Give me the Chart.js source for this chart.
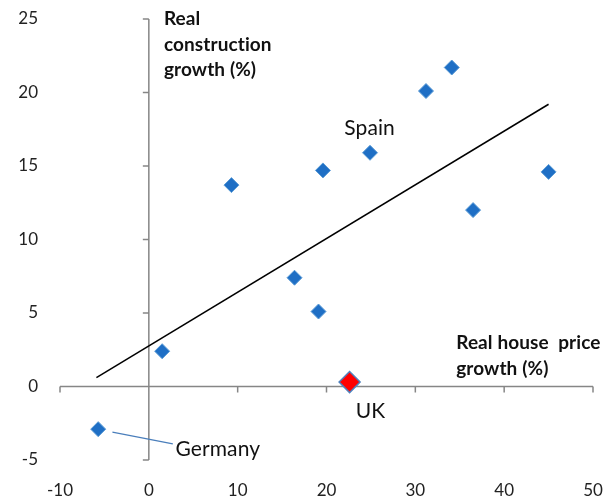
<!DOCTYPE html>
<html>
<head>
<meta charset="utf-8">
<script src="https://cdn.jsdelivr.net/npm/chart.js@4.4.0/dist/chart.umd.min.js"></script>
<style>
  html, body { margin: 0; padding: 0; background: #fff; }
  #chart { display: block; }
</style>
</head>
<body>
<canvas id="chart" width="613" height="500"></canvas>
<script>
// countries: real house price growth (x) vs real construction growth (y)
const houseGrowth = [-5.7, 1.5, 9.3, 16.4, 19.1, 19.6, 24.9, 31.2, 34.1, 36.5, 45.0];
const buildGrowth = [-2.9, 2.4, 13.7, 7.4, 5.1, 14.7, 15.9, 20.1, 21.7, 12.0, 14.6];
const ukPoint = [22.6, 0.3];
const trendX = [-5.9, 45.0];
const trendY = [0.6, 19.2];
const germanyLeaderX = [-4.1, 2.7];
const germanyLeaderY = [-3.1, -3.9];

const xTicks = [-10, 0, 10, 20, 30, 40, 50];
const yTicks = [-5, 0, 5, 10, 15, 20, 25];

const pointLabels = [
  { text: 'Spain', x: 22.0, y: 17.6 },
  { text: 'UK', x: 23.3, y: -1.7 },
  { text: 'Germany', x: 3.0, y: -4.3 }
];

const blue = '#1f6fc5';

const scatterData = houseGrowth.map((x, i) => ({ x: x, y: buildGrowth[i] }));

// axes cross at zero, ticks drawn on the lines themselves
const zeroAxes = {
  id: 'zeroAxes',
  beforeDatasetsDraw(chart) {
    const ctx = chart.ctx;
    const sx = chart.scales.x, sy = chart.scales.y;
    const x0 = sx.getPixelForValue(0), y0 = sy.getPixelForValue(0);
    ctx.save();
    ctx.strokeStyle = '#868686';
    ctx.lineWidth = 1.5;
    ctx.beginPath();
    ctx.moveTo(sx.left, y0); ctx.lineTo(sx.right, y0);
    ctx.moveTo(x0, sy.top); ctx.lineTo(x0, sy.bottom);
    xTicks.forEach(v => {
      const px = sx.getPixelForValue(v);
      ctx.moveTo(px, y0); ctx.lineTo(px, y0 + 6);
    });
    yTicks.forEach(v => {
      const py = sy.getPixelForValue(v);
      ctx.moveTo(x0, py); ctx.lineTo(x0 - 6, py);
    });
    ctx.stroke();
    ctx.restore();
  },
  afterDatasetsDraw(chart) {
    const ctx = chart.ctx;
    const sx = chart.scales.x, sy = chart.scales.y;
    ctx.save();
    ctx.fillStyle = '#111';
    ctx.textBaseline = 'middle';
    ctx.textAlign = 'left';
    ctx.letterSpacing = '0.1px'; // keeps "ti" from turning into a ligature
    ctx.font = '21px Lato';
    pointLabels.forEach(l => {
      ctx.fillText(l.text, sx.getPixelForValue(l.x), sy.getPixelForValue(l.y));
    });
    ctx.font = 'bold 19px Lato';
    const ax = sx.getPixelForValue(1.7);
    const ay = sy.getPixelForValue(25);
    ['Real', 'construction', 'growth (%)'].forEach((t, i) => ctx.fillText(t, ax, ay + i * 25.5));
    const bx = sx.getPixelForValue(34.6);
    const by = sy.getPixelForValue(3.0);
    ['Real house  price', 'growth (%)'].forEach((t, i) => ctx.fillText(t, bx, by + i * 26));
    ctx.restore();
  }
};

new Chart(document.getElementById('chart'), {
  type: 'scatter',
  data: {
    datasets: [
      {
        data: scatterData,
        pointStyle: 'rectRot',
        pointRadius: 7.5,
        backgroundColor: blue,
        borderColor: '#5b9bd5',
        borderWidth: 1,
        order: 1
      },
      {
        data: [{ x: ukPoint[0], y: ukPoint[1] }],
        pointStyle: 'rectRot',
        pointRadius: 10.5,
        backgroundColor: '#ff0000',
        borderColor: '#4f81bd',
        borderWidth: 1.5,
        order: 0
      },
      {
        type: 'line',
        data: trendX.map((x, i) => ({ x: x, y: trendY[i] })),
        borderColor: '#000',
        borderWidth: 1.5,
        pointRadius: 0,
        order: 2
      },
      {
        type: 'line',
        data: germanyLeaderX.map((x, i) => ({ x: x, y: germanyLeaderY[i] })),
        borderColor: '#4a7ebb',
        borderWidth: 1.2,
        pointRadius: 0,
        order: 2
      }
    ]
  },
  options: {
    responsive: false,
    animation: false,
    devicePixelRatio: 1,
    layout: { padding: { left: 17, right: 20, top: 19, bottom: 0 } },
    plugins: {
      legend: { display: false },
      tooltip: { enabled: false }
    },
    scales: {
      x: {
        type: 'linear',
        min: -10,
        max: 50,
        afterBuildTicks: s => { s.ticks = xTicks.map(v => ({ value: v })); },
        afterFit: s => { s.height = 40; s.paddingLeft = 0; s.paddingRight = 0; },
        ticks: { font: { family: 'Lato', size: 17 }, color: '#222', padding: 20 },
        grid: { display: false, drawTicks: false },
        border: { display: false }
      },
      y: {
        type: 'linear',
        min: -5,
        max: 25,
        afterBuildTicks: s => { s.ticks = yTicks.map(v => ({ value: v })); },
        afterFit: s => { s.width = 43; s.paddingTop = 0; s.paddingBottom = 0; },
        ticks: { font: { family: 'Lato', size: 17 }, color: '#222', padding: 22 },
        grid: { display: false, drawTicks: false },
        border: { display: false }
      }
    }
  },
  plugins: [zeroAxes]
});
</script>
</body>
</html>
